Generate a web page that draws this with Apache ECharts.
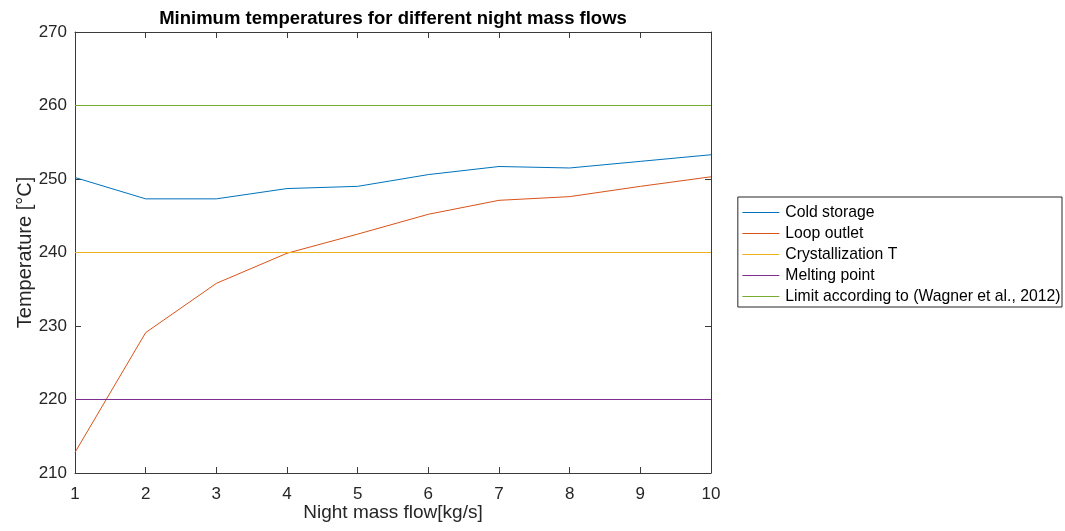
<!DOCTYPE html>
<html><head><meta charset="utf-8">
<script src="https://cdn.jsdelivr.net/npm/echarts@6/dist/echarts.min.js"></script>
<style>html,body{margin:0;padding:0;background:#fff}#c{width:1065px;height:531px}</style>
</head><body><div id="c"></div>
<script>
const massFlow = [1, 2, 3, 4, 5, 6, 7, 8, 9, 10];
const coldStorage = [250.2, 247.3, 247.3, 248.7, 249.0, 250.6, 251.7, 251.5, 252.4, 253.3];
const loopOutlet = [212.8, 229.1, 235.8, 239.9, 242.5, 245.2, 247.1, 247.6, 249.0, 250.3];
const crystallizationT = 240;
const meltingPoint = 220;
const wagnerLimit = 260;
const seriesNames = ['Cold storage', 'Loop outlet', 'Crystallization T', 'Melting point', 'Limit according to (Wagner et al., 2012)'];
const colors = ['#0072BD', '#D95319', '#EDB120', '#7E2F8E', '#77AC30'];

const pairs = arr => massFlow.map((x, i) => [x, arr[i]]);
const flat = v => [[massFlow[0], v], [massFlow[massFlow.length - 1], v]];
const seriesData = [pairs(coldStorage), pairs(loopOutlet), flat(crystallizationT), flat(meltingPoint), flat(wagnerLimit)];

const font = 'Liberation Sans, Arial, sans-serif';
const axisCol = '#262626';
const lineCol = '#3a3a3a';
const chart = echarts.init(document.getElementById('c'), null, {renderer: 'canvas'});
const baseAxis = {
  axisLine: {show: true, lineStyle: {color: lineCol, width: 1}},
  axisTick: {show: true, inside: true, length: 6, lineStyle: {color: lineCol}},
  splitLine: {show: false}
};
chart.setOption({
  animation: false,
  backgroundColor: '#fff',
  title: {
    text: 'Minimum temperatures for different night mass flows',
    left: 388, top: 4, textAlign: 'center',
    textStyle: {fontFamily: font, fontSize: 18.5, fontWeight: 'bold', color: '#000'}
  },
  grid: {left: 75, right: 354, top: 32, bottom: 58},
  legend: {
    orient: 'vertical', right: 3, top: 197,
    data: seriesNames.map(n => ({name: n, icon: 'rect'})),
    itemWidth: 37, itemHeight: 1, itemGap: 0,
    padding: [5, 1.5, 0, 4.5],
    borderColor: '#262626', borderWidth: 1,
    textStyle: {fontFamily: font, fontSize: 15.75, lineHeight: 21, color: '#000', padding: [0, 0, 0, 1]}
  },
  xAxis: [
    Object.assign({}, baseAxis, {
      type: 'value', min: 1, max: 10, interval: 1, position: 'bottom',
      name: 'Night mass flow[kg/s]', nameLocation: 'middle', nameGap: 30, nameMoveOverlap: false,
      nameTextStyle: {fontFamily: font, fontSize: 19, color: axisCol},
      axisLabel: {fontFamily: font, fontSize: 17, color: axisCol, margin: 13}
    }),
    Object.assign({}, baseAxis, {
      type: 'value', min: 1, max: 10, interval: 1, position: 'top',
      axisLabel: {show: false}
    })
  ],
  yAxis: [
    Object.assign({}, baseAxis, {
      type: 'value', min: 210, max: 270, interval: 10, position: 'left',
      name: 'Temperature [°C]', nameLocation: 'middle', nameGap: 40, nameMoveOverlap: false,
      nameTextStyle: {fontFamily: font, fontSize: 20, color: axisCol},
      axisLabel: {fontFamily: font, fontSize: 17, color: axisCol, margin: 8}
    }),
    Object.assign({}, baseAxis, {
      type: 'value', min: 210, max: 270, interval: 10, position: 'right',
      axisLabel: {show: false}
    })
  ],
  series: seriesNames.map((n, i) => ({
    name: n, type: 'line', data: seriesData[i],
    xAxisIndex: 0, yAxisIndex: 0,
    symbol: 'none', showSymbol: false,
    lineStyle: {color: colors[i], width: 1},
    itemStyle: {color: colors[i]},
    z: 2
  }))
});
</script></body></html>
